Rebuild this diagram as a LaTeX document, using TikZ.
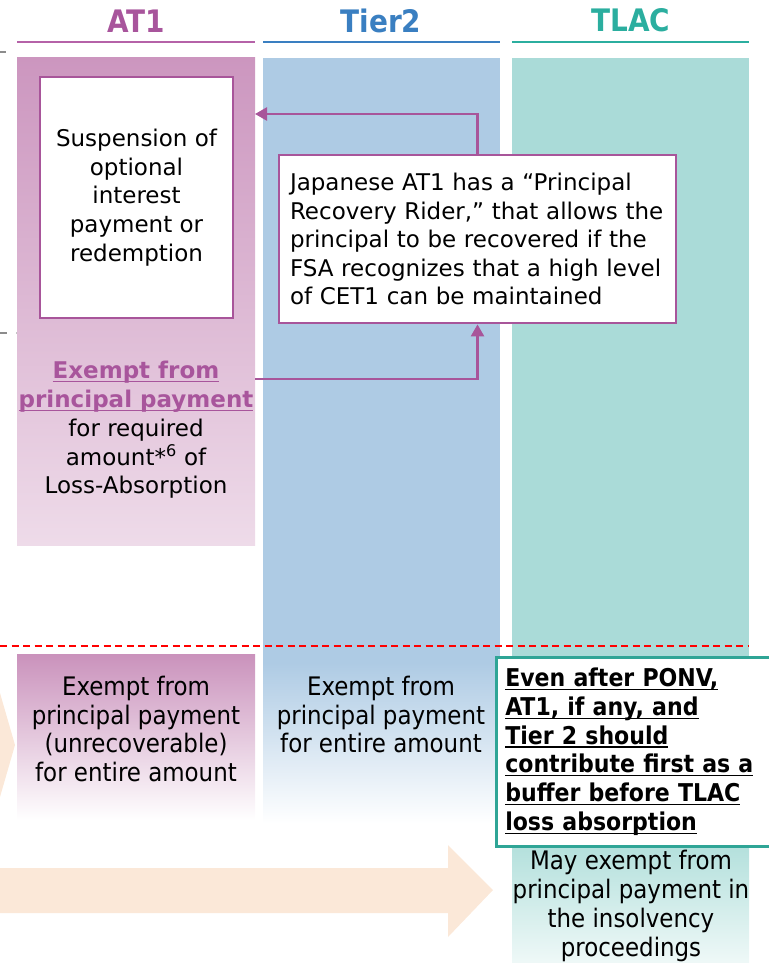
\documentclass[tikz,border=0pt]{standalone}
\usepackage{fontspec}
\setmainfont{DejaVu Sans}
\newfontfamily\condfont{DejaVu Sans Condensed}
\usetikzlibrary{arrows.meta}

\definecolor{atone}{HTML}{A8559C}
\definecolor{atoneline}{HTML}{B562A8}
\definecolor{tiertwo}{HTML}{3A7FC1}
\definecolor{tlac}{HTML}{2BAE9F}
\definecolor{atonetop}{HTML}{CC96BF}
\definecolor{atonebot}{HTML}{EEDBE9}
\definecolor{atonelow}{HTML}{CA92BC}
\definecolor{tierfill}{HTML}{AECBE4}
\definecolor{tlacfill}{HTML}{AADBD8}
\definecolor{tlaclow}{HTML}{B3E0DC}
\definecolor{tlaclowend}{HTML}{F0F9F8}
\definecolor{tlacedge}{HTML}{2FA596}
\definecolor{peach}{HTML}{FBE8D8}
\definecolor{framecol}{HTML}{A8559A}
\definecolor{tick}{HTML}{8C8C8C}

% underline drawn just below the baseline, in the current colour
\newcommand\uln[1]{\leavevmode\setbox0\hbox{#1}\rlap{\rule[-3.5pt]{\wd0}{1.3pt}}\box0}

\begin{document}
\begin{tikzpicture}[x=1pt,y=-1pt,
  header/.style={font=\condfont\bfseries\fontsize{31}{32}\selectfont, anchor=base, inner sep=0},
  hline/.style={line width=2.2pt},
  col/.style={anchor=north west, inner sep=0, outer sep=0, draw=none},
  body/.style={font=\fontsize{23}{28.7}\selectfont, align=center, inner sep=0},
  cond/.style={font=\condfont\fontsize{25.5}{28.7}\selectfont, align=center, inner sep=0},
  boxed/.style={draw=framecol, line width=2.8pt, fill=white},
  conn/.style={draw=framecol, line width=2.4pt, -{Triangle[length=12pt,width=13pt]}}]
\useasboundingbox (0,0) rectangle (768,963);

% column headings
\node[header, text=atone] (hAT1) at (136,33) {AT1};
\node[header, text=tiertwo] (hT2) at (381,33) {Tier2};
\node[header, text=tlac] (hTLAC) at (631,32) {TLAC};
\draw[hline, atoneline] (17,42) -- (255,42);
\draw[hline, tiertwo] (263,42) -- (500,42);
\draw[hline, tlac] (512,42) -- (749,42);

% small grey ticks on the left edge
\draw[tick, line width=2pt] (0,52) -- (6,52);
\draw[tick, line width=2pt] (0,333) -- (7,333);
\draw[tick!50, line width=2pt] (16,333) -- (19,333);

% column backgrounds
\node[col, minimum width=238pt, minimum height=487pt, top color=atonetop, bottom color=atonebot] (at1col) at (17,58) {};
\node[col, minimum width=237pt, minimum height=606pt, fill=tierfill] (t2col) at (263,58) {};
\node[col, minimum width=237pt, minimum height=160pt, top color=tierfill, bottom color=white] (t2low) at (263,663) {};
\node[col, minimum width=237pt, minimum height=600pt, fill=tlacfill] (tlcol) at (512,58) {};
\node[col, minimum width=238pt, minimum height=166pt, top color=atonelow, bottom color=white] (at1low) at (17,654) {};
\node[col, minimum width=237pt, minimum height=120pt, top color=tlaclow, bottom color=tlaclowend] (tllow) at (512,845) {};

% PONV line
\draw[red, line width=2pt, dash pattern=on 7pt off 4.5pt] (0,646) -- (749,646);

% peach arrows
\fill[peach] (0,693) -- (15,745) -- (0,797) -- cycle;
\fill[peach] (0,868) -- (448,868) -- (448,845) -- (493,890) -- (448,937) -- (448,913) -- (0,913) -- cycle;

% AT1 upper part
\node[boxed, body, minimum width=193pt, minimum height=241pt] (susp) at (136.5,197.5)
  {Suspension of\\optional\\interest\\payment or\\redemption};
\node[body] (exempt) at (136,430)
  {\textcolor{atone}{\bfseries\uln{Exempt from}}\\
   \textcolor{atone}{\bfseries\uln{principal payment}}\\
   for required\\amount*\textsuperscript{6} of\\Loss-Absorption};

% principal recovery note
\node[boxed, font=\fontsize{23}{28.5}\selectfont, align=left, text width=375pt,
      inner xsep=11pt, inner ysep=0pt, minimum height=168pt] (note) at (477.5,239)
  {Japanese AT1 has a “Principal Recovery Rider,” that allows the principal to be recovered if the FSA recognizes that a high level of CET1 can be maintained};

\coordinate (src) at (at1col.east |- 0,379);
\draw[conn] (note.north) |- (at1col.east |- 0,114);
\draw[conn] (src) -| (note.south);

% after PONV
\node[cond] (at1txt) at (136,729)
  {Exempt from\\principal payment\\(unrecoverable)\\for entire amount};
\node[cond] (t2txt) at (381,714.5)
  {Exempt from\\principal payment\\for entire amount};
\node[draw=tlacedge, line width=2.6pt, fill=white, anchor=north west,
      font=\condfont\bfseries\fontsize{24.5}{28.8}\selectfont, align=left,
      text width=262pt, inner xsep=9pt, inner ysep=0pt, minimum height=189pt] (tlbox) at (495,656)
  {\uln{Even after PONV,}\\\uln{AT1, if any, and}\\\uln{Tier 2 should}\\\uln{contribute first as a}\\\uln{buffer before TLAC}\\\uln{loss absorption}};
\node[cond] (tltxt) at (631,906)
  {May exempt from\\principal payment in\\the insolvency\\proceedings};
\end{tikzpicture}
\end{document}
